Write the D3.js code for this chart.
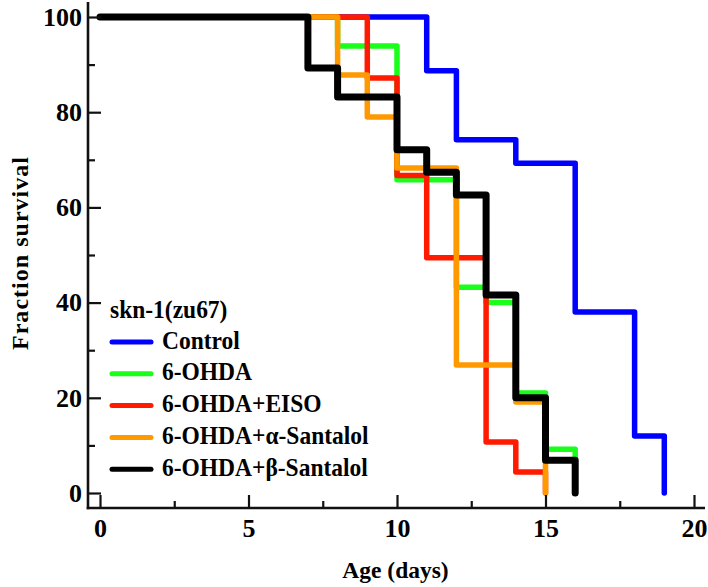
<!DOCTYPE html>
<html><head><meta charset="utf-8">
<script src="https://cdn.jsdelivr.net/npm/d3@7"></script>
<style>html,body{margin:0;padding:0;background:#fff;}svg{display:block;}</style>
</head><body>
<svg id="chart" width="708" height="587"></svg>
<script>
// ---- data ----
const seriesNames = ["Control", "6-OHDA", "6-OHDA+EISO", "6-OHDA+\u03b1-Santalol", "6-OHDA+\u03b2-Santalol"];
const seriesColors = ["#0000ff", "#19ff19", "#ff1a00", "#ff9900", "#000000"];
const controlDays = [0, 11, 12, 14, 16, 18, 19];
const controlVals = [100, 88.7, 74.2, 69.3, 38.0, 12.0, 0];
const ohdaDays = [0, 8, 10, 12, 13, 14, 15, 16];
const ohdaVals = [100, 93.9, 65.8, 43.2, 40.0, 21.0, 9.2, 0];
const eisoDays = [0, 9, 10, 11, 13, 14, 15];
const eisoVals = [100, 87.2, 66.7, 49.4, 10.7, 4.4, 0];
const alphaDays = [0, 8, 9, 10, 12, 14, 15];
const alphaVals = [100, 87.8, 79.0, 68.3, 26.9, 19.1, 0];
const betaDays = [0, 7, 8, 10, 11, 12, 13, 14, 15, 16];
const betaVals = [100, 89.3, 83.2, 72.1, 67.4, 62.6, 41.6, 20.0, 6.9, 0];
const xTicks = [0, 5, 10, 15, 20];
const xMinorTicks = [2.5, 7.5, 12.5, 17.5];
const yTicks = [0, 20, 40, 60, 80, 100];
const yMinorTicks = [10, 30, 50, 70, 90];
const legendTitle = "skn-1(zu67)";
const xTitle = "Age (days)";
const yTitle = "Fraction survival";

const seriesDays = [controlDays, ohdaDays, eisoDays, alphaDays, betaDays];
const seriesVals = [controlVals, ohdaVals, eisoVals, alphaVals, betaVals];
const seriesWidths = [5.5, 5.5, 5.5, 5.5, 7];

// ---- layout ----
const svg = d3.select("#chart");
const font = "'Liberation Serif','Times New Roman',serif";
const x = d3.scaleLinear().domain([0, 20]).range([100, 694]);
const y = d3.scaleLinear().domain([0, 100]).range([493, 17]);
const spineX = 88, spineY = 508;

// series lines
const line = d3.line().curve(d3.curveStepAfter).x(d => x(d[0])).y(d => y(d[1]));
seriesDays.forEach((days, i) => {
  const pts = days.map((d, j) => [d, seriesVals[i][j]]);
  svg.append("path").attr("d", line(pts)).attr("fill", "none")
    .attr("stroke", seriesColors[i]).attr("stroke-width", seriesWidths[i])
    .attr("stroke-linejoin", "round").attr("stroke-linecap", "round");
});

// axes
const yAxis = d3.axisLeft(y).tickValues(yTicks).tickSize(-13).tickPadding(6).tickFormat(d3.format("d"));
const yAxisMinor = d3.axisLeft(y).tickValues(yMinorTicks).tickSize(-7).tickFormat("");
const xAxis = d3.axisBottom(x).tickValues(xTicks).tickSize(-13).tickPadding(11).tickFormat(d3.format("d"));
const xAxisMinor = d3.axisBottom(x).tickValues(xMinorTicks).tickSize(-7).tickFormat("");

function styleAxis(g) {
  g.select(".domain").remove();
  g.selectAll("line").attr("stroke", "#111").attr("stroke-width", 2.2);
  g.selectAll("text").attr("font-family", font).attr("font-weight", "bold")
    .attr("font-size", 26).attr("fill", "#000");
}
svg.append("g").attr("transform", `translate(${spineX},0)`).call(yAxis).call(styleAxis);
svg.append("g").attr("transform", `translate(${spineX},0)`).call(yAxisMinor).call(styleAxis);
svg.append("g").attr("transform", `translate(0,${spineY})`).call(xAxis).call(styleAxis);
svg.append("g").attr("transform", `translate(0,${spineY})`).call(xAxisMinor).call(styleAxis);

// spines
svg.append("line").attr("x1", spineX).attr("x2", spineX).attr("y1", 2).attr("y2", spineY + 1.3)
  .attr("stroke", "#111").attr("stroke-width", 2.6);
svg.append("line").attr("x1", spineX - 1.3).attr("x2", 705).attr("y1", spineY).attr("y2", spineY)
  .attr("stroke", "#111").attr("stroke-width", 2.6);

// axis titles
svg.append("text").attr("x", 395.5).attr("y", 578).attr("text-anchor", "middle")
  .attr("font-family", font).attr("font-weight", "bold").attr("font-size", 23.5).text(xTitle);
svg.append("text").attr("transform", "translate(28,253.5) rotate(-90)").attr("text-anchor", "middle")
  .attr("font-family", font).attr("font-weight", "bold").attr("font-size", 24)
  .attr("textLength", 193).attr("lengthAdjust", "spacing").text(yTitle);

// legend
const lg = svg.append("g");
lg.append("text").attr("transform", "translate(110,318) scale(1,1.1)").attr("font-family", font)
  .attr("font-weight", "bold").attr("font-size", 23.5).text(legendTitle);
seriesNames.forEach((name, i) => {
  const cy = 342 + i * 31.8;
  lg.append("line").attr("x1", 112).attr("x2", 151).attr("y1", cy).attr("y2", cy)
    .attr("stroke", seriesColors[i]).attr("stroke-width", 5).attr("stroke-linecap", "round");
  lg.append("text").attr("transform", `translate(162,${cy + 6.5}) scale(1,1.1)`).attr("font-family", font)
    .attr("font-weight", "bold").attr("font-size", 23.5).text(name);
});
</script>
</body></html>
